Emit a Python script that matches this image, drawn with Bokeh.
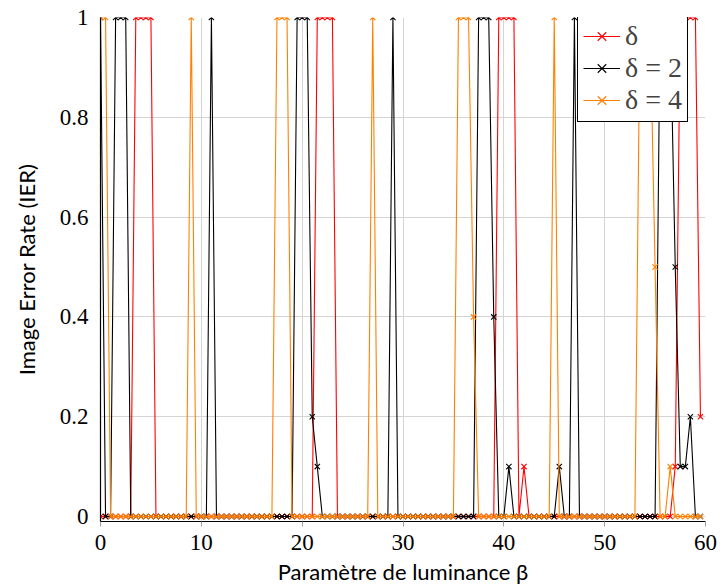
from bokeh.plotting import figure
from bokeh.models import (Range1d, FixedTicker, CustomJSTickFormatter, Legend,
                          LegendItem, ColumnDataSource)
from bokeh.embed import file_html
from bokeh.resources import INLINE

# ---------------- data ----------------
beta = [0, 0.5, 1, 1.5, 2, 2.5, 3, 3.5, 4, 4.5, 5, 5.5, 6, 6.5, 7, 7.5, 8, 8.5, 9, 9.5,
        10, 10.5, 11, 11.5, 12, 12.5, 13, 13.5, 14, 14.5, 15, 15.5, 16, 16.5, 17, 17.5, 18, 18.5, 19, 19.5,
        20, 20.5, 21, 21.5, 22, 22.5, 23, 23.5, 24, 24.5, 25, 25.5, 26, 26.5, 27, 27.5, 28, 28.5, 29, 29.5,
        30, 30.5, 31, 31.5, 32, 32.5, 33, 33.5, 34, 34.5, 35, 35.5, 36, 36.5, 37, 37.5, 38, 38.5, 39, 39.5,
        40, 40.5, 41, 41.5, 42, 42.5, 43, 43.5, 44, 44.5, 45, 45.5, 46, 46.5, 47, 47.5, 48, 48.5, 49, 49.5,
        50, 50.5, 51, 51.5, 52, 52.5, 53, 53.5, 54, 54.5, 55, 55.5, 56, 56.5, 57, 57.5, 58, 58.5, 59, 59.5]

ier_delta = [0, 0, 0, 0, 0, 0, 0, 1, 1, 1, 1, 0, 0, 0, 0, 0, 0, 0, 0, 0,
             0, 0, 0, 0, 0, 0, 0, 0, 0, 0, 0, 0, 0, 0, 0, 0, 0, 0, 0, 0,
             0, 0, 0, 1, 1, 1, 1, 0, 0, 0, 0, 0, 0, 0, 0, 0, 0, 0, 0, 0,
             0, 0, 0, 0, 0, 0, 0, 0, 0, 0, 0, 0, 0, 0, 0, 0, 0, 0, 0, 1,
             1, 1, 1, 0, 0.1, 0, 0, 0, 0, 0, 0, 0, 0, 0, 0, 0, 0, 0, 0, 0,
             0, 0, 0, 0, 0, 0, 0, 0, 0, 0, 0, 0, 0, 0, 0.1, 1, 1, 1, 1, 0.2]

ier_delta2 = [1, 0, 0, 1, 1, 1, 0, 0, 0, 0, 0, 0, 0, 0, 0, 0, 0, 0, 0, 0,
              0, 0, 1, 0, 0, 0, 0, 0, 0, 0, 0, 0, 0, 0, 0, 0, 0, 0, 0, 1,
              1, 1, 0.2, 0.1, 0, 0, 0, 0, 0, 0, 0, 0, 0, 0, 0, 0, 0, 0, 1, 0,
              0, 0, 0, 0, 0, 0, 0, 0, 0, 0, 0, 0, 0, 0, 0, 1, 1, 1, 0.4, 0,
              0, 0.1, 0, 0, 0, 0, 0, 0, 0, 0, 0, 0.1, 0, 0, 1, 0, 0, 0, 0, 0,
              0, 0, 0, 0, 0, 0, 0, 0, 0, 0, 0, 1, 1, 1, 0.5, 0.1, 0.1, 0.2, 0, 0]

ier_delta4 = [1, 1, 0, 0, 0, 0, 0, 0, 0, 0, 0, 0, 0, 0, 0, 0, 0, 0, 1, 0,
              0, 0, 0, 0, 0, 0, 0, 0, 0, 0, 0, 0, 0, 0, 0, 1, 1, 1, 0, 0,
              0, 0, 0, 0, 0, 0, 0, 0, 0, 0, 0, 0, 0, 0, 1, 0, 0, 0, 0, 0,
              0, 0, 0, 0, 0, 0, 0, 0, 0, 0, 0, 1, 1, 1, 0.4, 0, 0, 0, 0, 0,
              0, 0, 0, 0, 0, 0, 0, 0, 0, 0, 1, 0, 0, 0, 0, 0, 0, 0, 0, 0,
              0, 0, 0, 0, 0, 0, 0, 1, 1, 1, 0.5, 0, 0, 0.1, 0, 0, 0, 0, 0, 0]

series_labels = ["δ", "δ = 2", "δ = 4"]
series_colors = ["#ff0000", "#000000", "#ff8000"]
x_ticks = [0, 10, 20, 30, 40, 50, 60]
y_ticks = [0, 0.2, 0.4, 0.6, 0.8, 1.0]
x_label = "Paramètre de luminance β"
y_label = "Image Error Rate (IER)"

# ---------------- figure ----------------
p = figure(width=720, height=588, output_backend="svg", toolbar_location=None,
           x_range=Range1d(0, 60), y_range=Range1d(-0.01, 1.0),
           min_border_left=100, min_border_right=15, min_border_top=17,
           min_border_bottom=67)
p.outline_line_color = None
p.background_fill_color = "white"
p.border_fill_color = "white"

src = ColumnDataSource(dict(x=beta, a=ier_delta, b=ier_delta2, c=ier_delta4))

items = []
for col, lab, colr in zip(["a", "b", "c"], series_labels, series_colors):
    lr = p.line("x", col, source=src, line_color=colr, line_width=1.1)
    sr = p.scatter("x", col, source=src, marker="x", size=7.5, line_color=colr,
                   line_width=1.1)
    items.append(LegendItem(label=lab, renderers=[lr, sr]))

# axes
tick_font = "Liberation Serif"
for ax in (p.xaxis[0], p.yaxis[0]):
    ax.axis_line_color = "black"
    ax.axis_line_width = 1.2
    ax.major_tick_line_color = "#a0a0a0"
    ax.minor_tick_line_color = None
    ax.major_tick_in = 0
    ax.major_label_text_font = tick_font
    ax.major_label_text_font_size = "23px"
    ax.major_label_text_color = "black"
    ax.axis_label_text_font = "Lato"
    ax.axis_label_text_font_size = "22px"
    ax.axis_label_text_font_style = "normal"
    ax.axis_label_text_color = "black"

p.xaxis[0].ticker = FixedTicker(ticks=x_ticks)
p.xaxis[0].major_tick_out = 5
p.xaxis[0].major_label_standoff = 8
p.xaxis[0].axis_label = x_label
p.xaxis[0].axis_label_standoff = 5

p.yaxis[0].ticker = FixedTicker(ticks=y_ticks)
p.yaxis[0].formatter = CustomJSTickFormatter(code="return String(Math.round(tick*10)/10)")
p.yaxis[0].major_tick_out = 0
p.yaxis[0].major_label_standoff = 12
p.yaxis[0].axis_label = y_label
p.yaxis[0].axis_label_standoff = 17

p.xgrid.ticker = FixedTicker(ticks=x_ticks)
p.ygrid.ticker = FixedTicker(ticks=y_ticks)
p.xgrid.grid_line_color = "#d4d4d4"
p.ygrid.grid_line_color = "#d4d4d4"

legend = Legend(items=items, location=(477, 399))
legend.border_line_color = "black"
legend.border_line_width = 1
legend.border_line_alpha = 1
legend.background_fill_color = "white"
legend.background_fill_alpha = 1
legend.label_text_font = "Liberation Serif"
legend.label_text_font_size = "28px"
legend.glyph_width = 37
legend.glyph_height = 30
legend.label_height = 30
legend.label_standoff = 5
legend.spacing = 0
legend.padding = 5
legend.margin = 0
p.add_layout(legend, "center")

open("out.html", "w").write(file_html(p, INLINE))
